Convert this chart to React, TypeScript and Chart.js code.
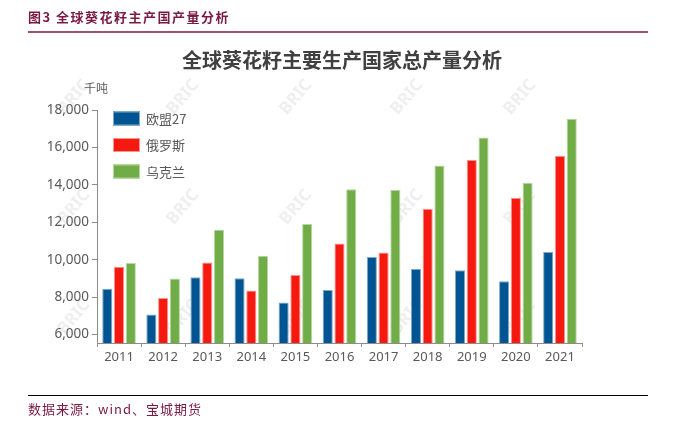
import React, { useEffect, useRef } from "react";
import { Chart, registerables } from "chart.js";

Chart.register(...registerables);

const years = ["2011", "2012", "2013", "2014", "2015", "2016", "2017", "2018", "2019", "2020", "2021"];
const seriesNames = ["欧盟27", "俄罗斯", "乌克兰"];
const eu27 = [8450, 7070, 9060, 9010, 7720, 8380, 10140, 9510, 9440, 8850, 10410];
const russia = [9620, 7950, 9850, 8360, 9190, 10870, 10390, 12730, 15330, 13310, 15550];
const ukraine = [9820, 8990, 11600, 10210, 11910, 13770, 13720, 15030, 16530, 14110, 17530];
const yTicks = [6000, 8000, 10000, 12000, 14000, 16000, 18000];
const yMin = 5550;
const yMax = 18000;

const headerText = "图3 全球葵花籽主产国产量分析";
const chartTitle = "全球葵花籽主要生产国家总产量分析";
const unitText = "千吨";
const sourceText = "数据来源：wind、宝城期货";

const COLORS = ["#005492", "#F5190F", "#70AD47"];
const BORDERS = ["#7FA9C8", "#F9948E", "#B7D6A2"];
const CJK = '"Noto Sans CJK SC", "Noto Sans", sans-serif';

const overlayPlugin = {
  id: "overlay",
  beforeDraw(chart: any) {
    const ctx = chart.ctx;
    ctx.save();
    ctx.fillStyle = "rgba(0,0,0,0.065)";
    ctx.font = 'bold 17px "Noto Sans", sans-serif';
    ctx.textAlign = "center";
    ctx.textBaseline = "middle";
    const xs = [74, 183, 296, 407, 520];
    const ys = [97, 207, 317];
    for (const y of ys) {
      for (const x of xs) {
        ctx.save();
        ctx.translate(x, y);
        ctx.rotate(-Math.PI / 3.6);
        ctx.fillText("BRIC", 0, 0);
        ctx.restore();
      }
    }
    ctx.restore();
  },
  afterDraw(chart: any) {
    const ctx = chart.ctx;
    ctx.save();
    // header
    ctx.fillStyle = "#7A1846";
    ctx.font = "bold 13px " + CJK;
    ctx.textAlign = "left";
    ctx.textBaseline = "middle";
    (ctx as any).letterSpacing = "1.5px";
    ctx.fillText(headerText, 28, 17);
    ctx.strokeStyle = "#7A1846";
    ctx.lineWidth = 1.5;
    ctx.beginPath();
    ctx.moveTo(28, 32);
    ctx.lineTo(648, 32);
    ctx.stroke();
    // footer
    ctx.strokeStyle = "#000000";
    ctx.lineWidth = 1;
    ctx.beginPath();
    ctx.moveTo(28, 395.5);
    ctx.lineTo(648, 395.5);
    ctx.stroke();
    ctx.fillStyle = "#7A1846";
    ctx.font = "13px " + CJK;
    (ctx as any).letterSpacing = "1px";
    ctx.fillText(sourceText, 28, 409);
    (ctx as any).letterSpacing = "0px";
    // title
    ctx.fillStyle = "#404040";
    ctx.font = "bold 20px " + CJK;
    ctx.textAlign = "center";
    ctx.fillText(chartTitle, 342, 60);
    // unit
    ctx.fillStyle = "#595959";
    ctx.font = "12px " + CJK;
    ctx.textAlign = "left";
    ctx.fillText(unitText, 84, 88);
    // legend
    const ds = chart.data.datasets;
    ds.forEach((d: any, i: number) => {
      const top = 111.5 + i * 26.5;
      ctx.fillStyle = d.backgroundColor;
      ctx.fillRect(113, top, 27, 14);
      ctx.strokeStyle = d.borderColor;
      ctx.lineWidth = 1;
      ctx.strokeRect(113.5, top + 0.5, 26, 13);
      ctx.fillStyle = "#595959";
      ctx.font = "13px " + CJK;
      ctx.textBaseline = "middle";
      ctx.fillText(d.label, 146, top + 7.5);
    });
    ctx.restore();
  },
};

export default function App() {
  const ref = useRef<HTMLCanvasElement | null>(null);
  useEffect(() => {
    if (!ref.current) return;
    const data = [eu27, russia, ukraine];
    const chart = new Chart(ref.current, {
      type: "bar",
      data: {
        labels: years,
        datasets: seriesNames.map((name, i) => ({
          label: name,
          data: data[i],
          backgroundColor: COLORS[i],
          borderColor: BORDERS[i],
          borderWidth: 1,
          categoryPercentage: 0.8,
          barPercentage: 0.86,
        })),
      },
      options: {
        animation: false,
        responsive: false,
        devicePixelRatio: 1,
        layout: { padding: { left: 0, right: 91, top: 110, bottom: 0 } },
        plugins: {
          legend: { display: false },
          title: { display: false },
          tooltip: { enabled: false },
        },
        scales: {
          x: {
            grid: {
              display: true,
              drawOnChartArea: false,
              drawTicks: true,
              tickLength: 4,
              color: "#8c8c8c",
              offset: true,
            },
            border: { display: true, color: "#8c8c8c", width: 1 },
            ticks: {
              color: "#595959",
              font: { family: '"Noto Sans", sans-serif', size: 13 },
              padding: 2,
              maxRotation: 0,
            },
            afterFit(scale: any) {
              scale.height = 84;
            },
          },
          y: {
            min: yMin,
            max: yMax,
            grid: {
              display: true,
              drawOnChartArea: false,
              drawTicks: true,
              tickLength: 5,
              color: "#8c8c8c",
            },
            border: { display: true, color: "#8c8c8c", width: 1 },
            ticks: {
              color: "#595959",
              font: { family: '"Noto Sans", sans-serif', size: 13.5 },
              padding: 3,
              callback: (v: any) => Number(v).toLocaleString("en-US"),
            },
            afterBuildTicks(scale: any) {
              scale.ticks = yTicks.map((v) => ({ value: v }));
            },
            afterFit(scale: any) {
              scale.width = 97;
            },
          },
        },
      },
      plugins: [overlayPlugin],
    });
    return () => chart.destroy();
  }, []);
  return (
    <div style={{ position: "fixed", left: 0, top: 0, width: 673, height: 427, background: "#fff" }}>
      <canvas ref={ref} width={673} height={427} style={{ width: 673, height: 427, display: "block" }} />
    </div>
  );
}
